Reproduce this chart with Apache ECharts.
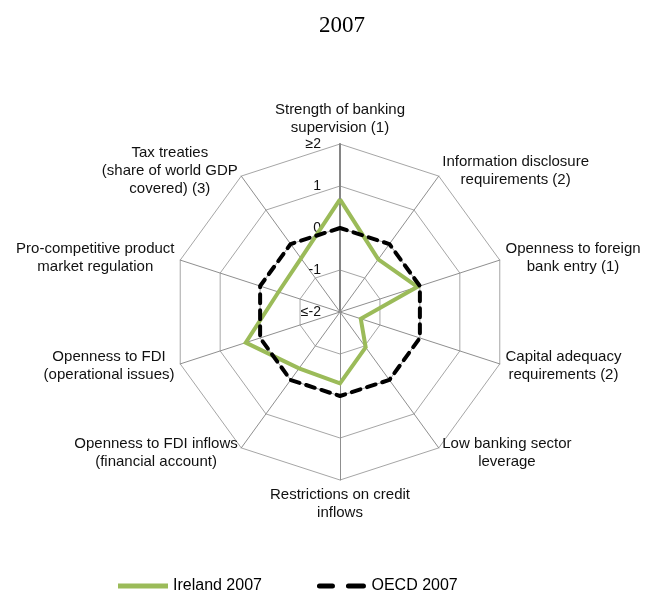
<!DOCTYPE html>
<html>
<head>
<meta charset="utf-8">
<script src="https://cdn.jsdelivr.net/npm/echarts@6/dist/echarts.min.js"></script>
<style>
html,body{margin:0;padding:0;background:#fff;}
#chart{width:645px;height:600px;}
</style>
</head>
<body>
<div id="chart"></div>
<script>
// Categories in clockwise order starting from the top
const indicatorNames = [
  "Strength of banking\nsupervision (1)",
  "Information disclosure\nrequirements (2)",
  "Openness to foreign\nbank entry (1)",
  "Capital adequacy\nrequirements (2)",
  "Low banking sector\nleverage",
  "Restrictions on credit\ninflows",
  "Openness to FDI inflows\n(financial account)",
  "Openness to FDI\n(operational issues)",
  "Pro-competitive product\nmarket regulation",
  "Tax treaties\n(share of world GDP\ncovered) (3)"
];
const irelandValues = [0.68, -0.45, -0.06, -1.48, -0.96, -0.30, -0.34, 0.36, -0.46, -0.42];
const oecdValues = [0, 0, 0, 0, 0, 0, 0, 0, 0, 0];
const tickLabels = {"-2": "≤-2", "-1": "-1", "0": "0", "1": "1", "2": "≥2"};
const axisMin = -2, axisMax = 2;

// ECharts radar runs counter-clockwise; reorder so the categories run clockwise
const order = [0, 9, 8, 7, 6, 5, 4, 3, 2, 1];
const reorder = arr => order.map(i => arr[i]);

const chart = echarts.init(document.getElementById('chart'), null, {renderer: 'canvas'});
const FONT = 'Liberation Sans, Arial, sans-serif';

const indicators = reorder(indicatorNames).map((n, i) => {
  const o = {name: n, min: axisMin, max: axisMax};
  if (i === 0) {
    o.axisLabel = {show: true};
    o.axisLine = {lineStyle: {color: '#858585', width: 2}};
  } else {
    o.axisLabel = {show: false};
  }
  return o;
});

chart.setOption({
  animation: false,
  backgroundColor: '#fff',
  title: {
    text: '2007',
    left: 314,
    top: 9,
    textStyle: {fontFamily: 'Liberation Serif, Times New Roman, serif', fontSize: 23, fontWeight: 'normal', color: '#000'}
  },
  legend: {
    bottom: 1,
    left: 113,
    itemGap: 55,
    itemWidth: 50,
    itemHeight: 5,
    textStyle: {fontFamily: FONT, fontSize: 16, color: '#000'},
    data: [
      {name: 'Ireland 2007', icon: 'path://M0,0 L50,0 L50,5 L0,5 Z'},
      {name: 'OECD 2007', icon: 'path://M2,0 L15,0 A2.5,2.5 0 0 1 15,5 L2,5 A2.5,2.5 0 0 1 2,0 Z M31,0 L46,0 A2.5,2.5 0 0 1 46,5 L31,5 A2.5,2.5 0 0 1 31,0 Z'}
    ]
  },
  radar: {
    center: [340, 312],
    radius: 168,
    shape: 'polygon',
    splitNumber: 4,
    startAngle: 90,
    nameGap: 6,
    axisName: {
      color: '#111',
      fontFamily: FONT,
      fontSize: 15,
      lineHeight: 18,
      formatter: function (name) {
        return name.split('\n').map(l => '{c|' + l + '}').join('\n');
      },
      rich: {c: {align: 'center', fontFamily: FONT, fontSize: 15, lineHeight: 18, color: '#111'}}
    },
    axisLine: {show: true, lineStyle: {color: '#8f8f8f', width: 1}},
    splitLine: {show: true, lineStyle: {color: '#a6a6a6', width: 1}},
    splitArea: {show: false},
    axisTick: {show: false},
    axisLabel: {
      show: false,
      margin: 19,
      color: '#111',
      fontFamily: FONT,
      fontSize: 14,
      showMinLabel: true,
      showMaxLabel: true,
      formatter: function (v) { return tickLabels[String(v)] ?? String(v); }
    },
    indicator: indicators
  },
  series: [
    {
      type: 'radar',
      symbol: 'none',
      z: 3,
      data: [
        {
          name: 'OECD 2007',
          value: reorder(oecdValues),
          lineStyle: {color: '#000', width: 4, type: [9, 7], cap: 'round'},
          itemStyle: {color: '#000'}
        }
      ]
    },
    {
      type: 'radar',
      symbol: 'none',
      z: 2,
      data: [
        {
          name: 'Ireland 2007',
          value: reorder(irelandValues),
          lineStyle: {color: '#9BBB59', width: 4, join: 'miter'},
          itemStyle: {color: '#9BBB59'}
        }
      ]
    }
  ]
});
</script>
</body>
</html>
